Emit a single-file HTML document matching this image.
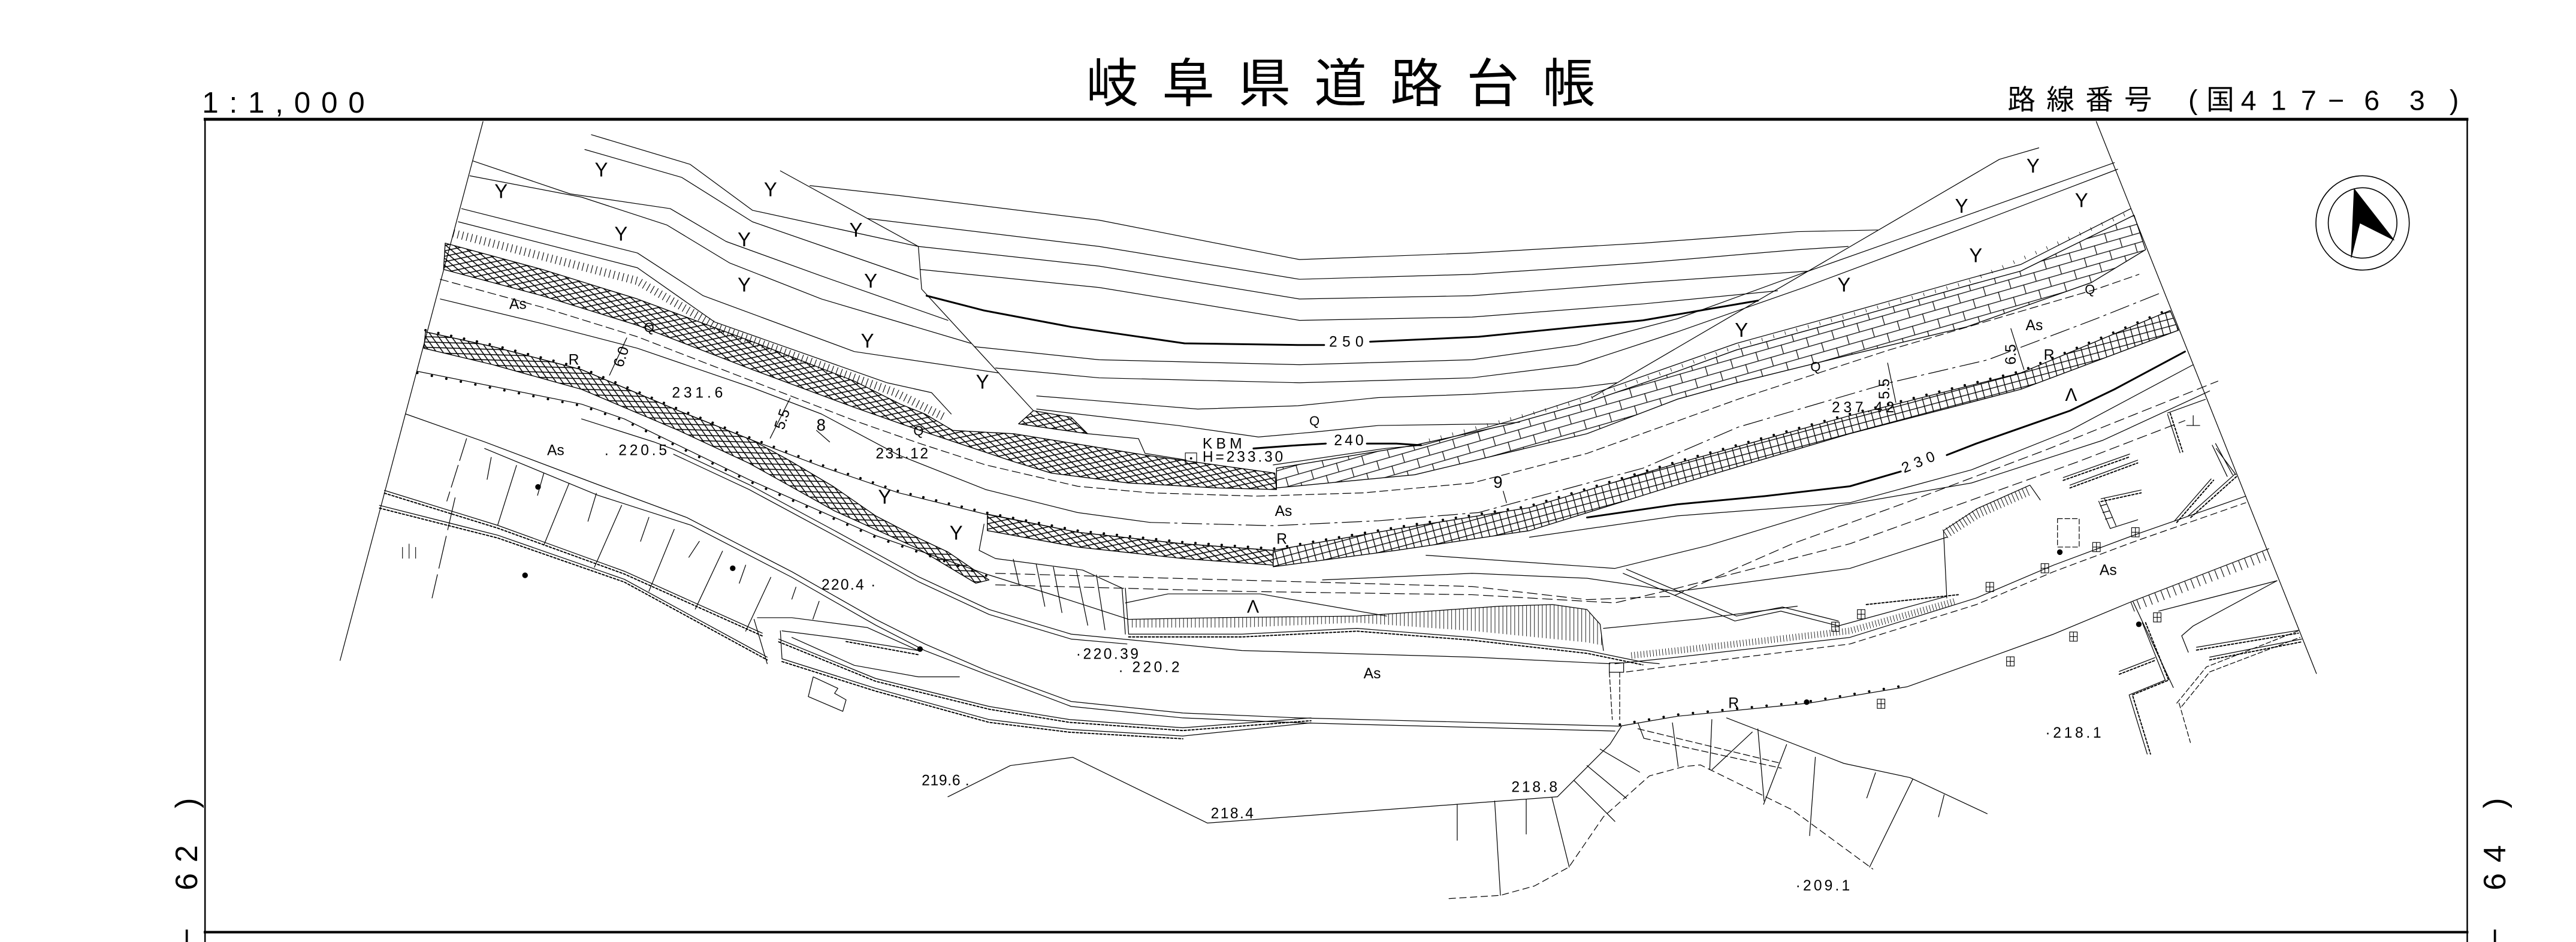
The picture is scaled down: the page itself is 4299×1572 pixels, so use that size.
<!DOCTYPE html>
<html><head><meta charset="utf-8">
<style>
html,body{margin:0;padding:0;background:#fff;}
svg{display:block;}
</style></head><body>
<svg xmlns="http://www.w3.org/2000/svg" width="4299" height="1572" viewBox="0 0 1568 573.4" preserveAspectRatio="none">
<defs>
<pattern id="xhU" patternUnits="userSpaceOnUse" width="7.3" height="3.6" patternTransform="rotate(14)">
<path d="M-0.4,-0.2 L7.7,3.8 M-0.4,3.8 L7.7,-0.2" stroke="#000" stroke-width="0.55" fill="none"/>
</pattern>
<pattern id="xhL" patternUnits="userSpaceOnUse" width="7.3" height="3.6" patternTransform="rotate(28)">
<path d="M-0.4,-0.2 L7.7,3.8 M-0.4,3.8 L7.7,-0.2" stroke="#000" stroke-width="0.55" fill="none"/>
</pattern>
<pattern id="grid" patternUnits="userSpaceOnUse" width="4.6" height="4.2" patternTransform="rotate(-15)">
<path d="M0,0.25 H4.6 M0.25,0 V4.2" stroke="#000" stroke-width="0.5" fill="none"/>
</pattern>
<pattern id="brick" patternUnits="userSpaceOnUse" width="16" height="11" patternTransform="rotate(-16)">
<path d="M0,0.25 H16 M0,5.75 H16 M0.25,0 V5.5 M8.25,5.5 V11" stroke="#000" stroke-width="0.45" fill="none"/>
</pattern>
<pattern id="vt" patternUnits="userSpaceOnUse" width="2.4" height="20">
<line x1="0.4" y1="0" x2="0.4" y2="20" stroke="#000" stroke-width="0.32"/>
</pattern>
<g id="sq"><rect x="-2.3" y="-2.8" width="4.6" height="5.6"/><line x1="0" y1="-2.8" x2="0" y2="2.8"/><line x1="-2.3" y1="0" x2="2.3" y2="0"/></g>
</defs>

<rect x="0" y="0" width="1568" height="573.4" fill="#fff"/>

<!-- Header -->
<g font-family="'Liberation Sans','Noto Sans CJK JP',sans-serif" fill="#000">
<text x="123" y="68.5" font-size="18" textLength="99" lengthAdjust="spacing">1:1,000</text>
<text x="661" y="62" font-size="32" textLength="310" lengthAdjust="spacing">岐阜県道路台帳</text>
<text x="1222" y="66.5" font-size="17" textLength="88" lengthAdjust="spacing">路線番号</text>
<text x="1332" y="66.5" font-size="17">(</text>
<text x="1343" y="66.5" font-size="17">国</text>
<text x="1364" y="67" font-size="17" textLength="46" lengthAdjust="spacing">417</text>
<text x="1417" y="67" font-size="17">−</text>
<text x="1439" y="67" font-size="17" textLength="37" lengthAdjust="spacing">63</text>
<text x="1491" y="66.5" font-size="17">)</text>
<!-- side labels -->
<text transform="translate(120,492) rotate(-90)" font-size="19">)</text>
<text transform="translate(120,525) rotate(-90)" font-size="19">2</text>
<text transform="translate(120,542) rotate(-90)" font-size="19">6</text>
<text transform="translate(120,576) rotate(-90)" font-size="19">−</text>
<text transform="translate(1525,492) rotate(-90)" font-size="19">)</text>
<text transform="translate(1525,525) rotate(-90)" font-size="19">4</text>
<text transform="translate(1525,542) rotate(-90)" font-size="19">6</text>
<text transform="translate(1525,576) rotate(-90)" font-size="19">−</text>
</g>

<!-- Frame -->
<g stroke="#000" fill="none">
<line x1="124" y1="72.6" x2="1502.5" y2="72.6" stroke-width="1.8"/>
<line x1="124.8" y1="72" x2="124.8" y2="573.4" stroke-width="0.9"/>
<line x1="1501.8" y1="72" x2="1501.8" y2="573.4" stroke-width="0.9"/>
<line x1="124" y1="567.4" x2="1502.5" y2="567.4" stroke-width="1.5"/>
</g>

<!-- Bands -->
<g stroke="#000" stroke-width="0.5" stroke-linejoin="round">
<path fill="url(#xhU)" d="M271,148 L330,164 L388,182 L458,208 L520,232 L548,246 L563,252 L580,262 L617,264 L660,271 L697,277 L740,283 L776,288 L777,298 L740,297 L687,294 L640,288 L617,281 L590,272 L560,262 L520,248 L458,225 L388,198 L330,180 L270,164 Z"/>
<path fill="url(#xhU)" d="M620,258 L629,250 L652,254 L662,264 Z"/>
<path fill="url(#xhL)" d="M259,202 L300,211 L354,225 L413,250 L458,268 L480,280 L507,296 L533,314 L560,328 L577,336 L602,353 L594,355 L559,334 L508,311 L456,282 L413,262 L354,237 L300,222 L258,212 Z"/>
<path fill="url(#xhU)" d="M601,313 L656,324 L720,331 L775,335 L775,344 L720,340 L656,333 L601,323 Z"/>
<path fill="url(#grid)" d="M775,335 L850,322 L931,309 L1021,282 L1126,253 L1230,227 L1321,189 L1326,201 L1230,237 L1126,264 L1021,295 L931,323 L850,335 L775,345 Z"/>
<path fill="url(#brick)" d="M777,285 L861,271 L920,258 L966,245 L1021,226 L1057,213 L1126,194 L1197,174 L1230,165 L1299,131 L1306,152 L1273,172 L1197,199 L1126,216 L1057,233 L1021,243 L966,264 L861,289 L777,297 Z"/>
</g>

<!-- main line work -->
<g fill="none" stroke="#000" stroke-width="0.45" stroke-linejoin="round" stroke-linecap="round">
<!-- survey boundaries -->
<line x1="294" y1="74" x2="207" y2="402"/>
<line x1="1276" y1="74" x2="1410" y2="410"/>
<polyline points="284,267 272,305" stroke-dasharray="14 3"/>
<polyline points="277,303 263,364" stroke-dasharray="20 4"/>

<!-- upper-left forest slope -->
<polyline points="360,82 420,100 458,128 559,150"/>
<polyline points="356,91 415,108 458,135 559,170"/>
<polyline points="475,104 559,150 561,176 629,250"/>
<polyline points="288,98 347,118 408,127 442,147 500,168 577,195"/>
<polyline points="286,107 354,120 406,137 444,160 500,182 591,209"/>
<polyline points="281,127 388,154 428,180 520,214 608,227"/>
<polyline points="279,135 388,163 435,196 540,233 567,239 579,252"/>
<polyline points="276,142 388,171 438,200 545,239 575,254" stroke-width="5" stroke-dasharray="0.4 2.4" stroke-linecap="butt"/>
<polyline points="662,264 693,267 697,276 722,280"/>

<!-- contours -->
<polyline points="493,113 547,119 669,134 791,158 896,154 1000,148 1094,141 1143,140"/>
<polyline points="528,133 669,150 791,170 896,167 1000,160 1094,152 1125,150"/>
<polyline points="559,150 669,162 791,182 896,180 1000,172 1101,165"/>
<polyline points="560,164 669,175 791,195 896,193 1000,185 1082,177"/>
<polyline points="564,180 599,189 652,199 721,209 790,210 806,210" stroke-width="1.1"/>
<polyline points="834,208 900,205 1000,195 1070,183" stroke-width="1.1"/>
<polyline points="593,211 669,219 791,222 896,219 960,210 1021,194 1098,166 1200,130 1287,99"/>
<polyline points="606,224 669,230 791,233 896,230 960,222 1021,202 1098,175 1200,137 1289,103"/>
<polyline points="631,241 656,243 729,249 790,247 839,242 896,240 960,236 984,233"/>
<polyline points="631,249 656,252 717,259 766,266 800,263 839,259 913,258 925,257"/>
<polyline points="969,242 1217,97 1241,90"/>
<polyline points="763,273 790,271 807,270" stroke-width="1.1"/>
<polyline points="832,270 850,270 865,271" stroke-width="1.1"/>
<polyline points="775,283 843,273 866,271 920,256 966,241 1057,209 1126,190 1197,170 1230,161 1297,127"/>
<polyline points="870,268 966,243 1057,211 1197,172 1297,129" stroke-width="2.2" stroke-dasharray="0.3 7" stroke-linecap="butt"/>

<!-- upper road -->
<polyline points="268,170 330,187 388,205 458,232 520,256 560,270 600,283 656,296 700,300 765,302 830,300 896,294 966,276 1058,243 1150,213 1276,176 1302,167" stroke-dasharray="5 2.5"/>
<polyline points="268,182 330,197 388,212 458,236 500,252 547,277 600,298 656,312 700,318"/>
<polyline points="700,318 775,320 839,317 900,312 1000,285 1058,260 1150,233 1210,219 1276,194 1316,178" stroke-dasharray="12 3 1.5 3"/>
<polyline points="259,202 300,211 354,225 413,250 458,268 500,284 547,300 600,313 656,324 720,331 775,335"/>
<polyline points="259,201 300,210 354,224 413,249 458,267 500,283 547,299 600,312 656,323 720,330 775,334 850,321 931,308 1021,281 1126,252 1230,226 1321,188" stroke-width="1.5" stroke-dasharray="0.01 8"/>
<polyline points="931,327 1021,314 1126,306 1200,286 1260,262 1335,222"/>

<!-- dimension marks -->
<line x1="381.5" y1="205.7" x2="371" y2="228.4"/>
<line x1="481" y1="242.3" x2="468.8" y2="266.7"/>
<line x1="497" y1="262" x2="505" y2="269"/>
<line x1="915" y1="299" x2="917" y2="306"/>
<line x1="1149" y1="221" x2="1154" y2="245"/>
<line x1="1224" y1="200" x2="1232" y2="225"/>

<!-- lower-left road -->
<polyline points="247,252 295,269 364,295 418,315 482,348 533,377 563,392 600,408 652,427 720,434 791,437 986,442"/>
<polyline points="295,273 364,301.5 420.6,319.7 482,351.4 533,380.5 563,396 601.7,411 652,430 720,437 791,440 983,445"/>
<polyline points="254,226 354,246 380,255 456,292 533,326 602,350 650,365 687,377"/>
<polyline points="254,227 354,247 380,256 456,293 533,327 602,351" stroke-width="1.5" stroke-dasharray="0.01 9"/>
<polyline points="354,255 398,269 410,273.5 456,295 508,323 559,351 602,371 652,386 756,396 896,400 980,404"/>
<polyline points="410,276.5 456,298 508,326 559,354 602,374 652,389 686,392"/>
<polyline points="685,367 711,361.5 767,361.5 844,375"/>
<line x1="685" y1="358" x2="687" y2="386"/>

<!-- slope hatching lower-left -->
<line x1="299" y1="278.4" x2="296.5" y2="291.8"/>
<line x1="314.4" y1="283.3" x2="302.9" y2="319.8"/>
<line x1="331" y1="288.1" x2="327.2" y2="301.5"/>
<line x1="346.4" y1="294.2" x2="331" y2="331.9"/>
<line x1="363" y1="300.3" x2="357.9" y2="317.3"/>
<line x1="378.4" y1="307.6" x2="361.8" y2="345.3"/>
<line x1="395" y1="314.9" x2="389.9" y2="329.5"/>
<line x1="410.4" y1="322.2" x2="395" y2="359.9"/>
<line x1="425.7" y1="329.5" x2="419.3" y2="339.2"/>
<line x1="439.8" y1="335.5" x2="423.2" y2="370.8"/>
<line x1="453.9" y1="344" x2="450" y2="355"/>
<line x1="469.2" y1="351.4" x2="453.9" y2="384.2"/>
<line x1="484.5" y1="357.4" x2="482" y2="364.7"/>
<line x1="498.6" y1="366" x2="494.8" y2="376.9"/>

<!-- hedges (scallops) -->
<polyline points="234,298.5 303,319.8 380,347.7 464,385.4"/>
<polyline points="234,300.2 303,321.5 380,349.4 464,387.1" stroke-width="0.7" stroke-dasharray="1.3 1.1"/>
<polyline points="231,307.6 303,325.8 380,352.6 467,400"/>
<polyline points="231,309.3 303,327.5 380,354.3 467,401.7" stroke-width="0.7" stroke-dasharray="1.3 1.1"/>
<polyline points="474,389 533,413 602,430 651,438 720,443 798,437"/>
<polyline points="474,390.7 533,414.7 602,431.7 651,439.7 720,444.7 798,438.7" stroke-width="0.7" stroke-dasharray="1.3 1.1"/>
<polyline points="476,401 533,419 602,438 651,444 720,448 798,440"/>
<polyline points="476,402.7 533,420.7 602,439.7 651,445.7 720,449.7" stroke-width="0.7" stroke-dasharray="1.3 1.1"/>

<!-- ramp -->
<polyline points="459,377 467,404"/>
<polyline points="461,376 482,376 528,382 559,396"/>
<polyline points="475,384 476,401"/>
<polyline points="476,384 515,389 559,396"/>
<polyline points="515,390.5 559,398.5" stroke-width="0.7" stroke-dasharray="1.3 1.1"/>
<polyline points="482,388 520,405 559,412 584,412"/>
<polygon points="495,412 492,424 513,433 515,426 508,422 510,419"/>

<!-- junction area -->
<polyline points="599,319 596,335 606,340 659,347 683,358 685,386"/>
<line x1="616.8" y1="340.4" x2="620.3" y2="355.7"/>
<line x1="630.7" y1="343.3" x2="636" y2="369.1"/>
<line x1="641.2" y1="345.2" x2="646.4" y2="372.9"/>
<line x1="655.2" y1="347.1" x2="662.1" y2="380.6"/>
<line x1="667.4" y1="350" x2="672.6" y2="383.4"/>
<polyline points="606,349 714,352 896,357 966,365 1018,363 1091,331 1160,306 1245,274 1300,252 1350,232" stroke-dasharray="6 3"/>
<polyline points="606,356 756,360 896,362 983,367 1021,358 1126,331 1265,281 1330,256" stroke-dasharray="6 3"/>
<polyline points="805,353 896,349 966,352 1021,360 1126,346 1185,327"/>
<polyline points="868,338 940,343 983,346 1040,332 1119,308 1200,294 1280,268 1345,238"/>
<polyline points="976,382.5 1035,376.7 1094,369"/>

<!-- comb bank along lower road -->
<path fill="url(#vt)" stroke="none" d="M687,377 L740,376 L826,375 L870,372 L913,369 L945,368 L966,371 L974,380 L976,393 L966,391 L896,384 L826,379 L756,382 L687,382 Z"/>
<polyline points="687,377 740,376 826,375 870,372 913,369 945,368 966,371 974,380 976,396"/>
<polyline points="687,386 756,386 826,382.5 896,388 966,396 1000,403 1010,404"/>
<polyline points="687,387.7 756,387.7 826,384.2 896,389.7 966,397.7 1000,404.7" stroke-width="0.7" stroke-dasharray="1.3 1.1"/>

<!-- pipe / box -->
<rect x="979.6" y="403.5" width="8.7" height="5.7"/>
<line x1="979.6" y1="409.2" x2="981.4" y2="438" stroke-dasharray="3 1.5"/>
<line x1="985.9" y1="409.2" x2="985.9" y2="438" stroke-dasharray="3 1.5"/>

<!-- right lower road -->
<polyline points="983,404 1021,400 1126,388 1203,364 1250,344 1301,325 1367,302"/>
<polyline points="990,409 1021,405 1126,392 1203,368 1250,348 1301,329 1367,306" stroke-dasharray="4 2.5"/>
<polyline points="993,399 1021,396 1126,384 1190,366" stroke-width="4" stroke-dasharray="0.3 1.6" stroke-linecap="butt"/>
<polyline points="986,442 1021,436 1101,428 1161,418 1203,403 1250,386 1298,366 1381,334"/>
<polyline points="986,441 1021,435 1101,427 1161,417" stroke-width="1.5" stroke-dasharray="0.01 9"/>
<polyline points="1298,369.5 1381,337.5" stroke-width="6" stroke-dasharray="0.4 3.5" stroke-linecap="butt"/>
<polyline points="1314,372 1386,353.5"/>

<!-- stair line -->
<polyline points="988,349 1056,378 1084,372 1119,381 1185,363"/>
<polyline points="990,346.5 1057,375 1085,369.5 1119,378"/>
<polyline points="1136,368 1192,362" stroke-width="0.7" stroke-dasharray="1.3 1.1"/>

<!-- comb block -->
<polyline points="1185,364 1183,323 1203.5,309.6 1235.6,295.3 1241.9,304.3"/>
<polyline points="1184,325 1203.5,312.6 1235.6,298.3" stroke-width="6" stroke-dasharray="0.35 2" stroke-linecap="butt"/>

<!-- thick 230 -->
<polyline points="966,315 1021,307 1074,302 1126,296 1157,287" stroke-width="1.1"/>
<polyline points="1185,277 1203,270 1260,250 1287,237 1330,214" stroke-width="1.1"/>

<!-- right structures -->
<polyline points="1298.4,366.3 1322.9,418.5"/>
<polyline points="1304,379 1318,414 1296,423 1307,459"/>
<polyline points="1306,379 1320,414 1298,423 1309,459" stroke-width="0.7" stroke-dasharray="1.3 1.1"/>
<polyline points="1325,428 1343,406 1399,384" stroke-dasharray="3 1.5"/>
<polyline points="1328,430 1345,409 1400,388" stroke-dasharray="3 1.5"/>
<polyline points="1326.4,428 1333.3,452" stroke-dasharray="3 1.5"/>
<polyline points="1386,353.5 1335,381 1328,387 1332,397"/>
<polyline points="1337,394 1399,383.7"/>
<polyline points="1337,395.7 1399,385.4" stroke-width="0.7" stroke-dasharray="1.3 1.1"/>
<polyline points="1345,400 1401,389"/>
<polyline points="1345,401.7 1401,390.7" stroke-width="0.7" stroke-dasharray="1.3 1.1"/>
<polyline points="1290,408.7 1311.7,400.3"/>
<polyline points="1290,410.4 1311.7,402" stroke-width="0.7" stroke-dasharray="1.3 1.1"/>
<polyline points="1255.9,290.7 1296.3,276.4"/>
<polyline points="1255.9,292.4 1296.3,278.1" stroke-width="0.7" stroke-dasharray="1.3 1.1"/>
<polyline points="1260,295.3 1301.2,280.1"/>
<polyline points="1260,297 1301.2,281.8" stroke-width="0.7" stroke-dasharray="1.3 1.1"/>
<polyline points="1278.9,303.6 1303.3,298.3"/>
<polyline points="1278.9,305.3 1303.3,300" stroke-width="0.7" stroke-dasharray="1.3 1.1"/>
<polyline points="1277.5,305.1 1284.5,321.7 1301.2,316.4"/>
<polyline points="1281,303.5 1288,320"/>
<line x1="1278.5" y1="308" x2="1282" y2="307"/><line x1="1280" y1="312" x2="1284" y2="311"/><line x1="1281.5" y1="316" x2="1285.5" y2="315"/>
<rect x="1252.4" y="315.7" width="13.2" height="17.3" stroke-dasharray="3 1.5"/>
<polyline points="1319.4,252.2 1327,275.6"/>
<polyline points="1321,251.5 1328.6,275" stroke-width="0.7" stroke-dasharray="1.3 1.1"/>
<polyline points="1319.4,251.4 1342.4,243.1"/>
<line x1="1331" y1="259" x2="1339" y2="259"/>
<line x1="1335" y1="253" x2="1335" y2="259"/>
<line x1="1346.6" y1="271" x2="1355.7" y2="290"/>
<line x1="1348.6" y1="270" x2="1359" y2="289"/>
<polyline points="1323.5,317.2 1345.9,291.5"/>
<polyline points="1325,318 1347.4,292.3" stroke-width="0.7" stroke-dasharray="1.3 1.1"/>
<polyline points="1332,314 1360.5,288.5"/>
<polyline points="1333.5,315 1362,289.5" stroke-width="0.7" stroke-dasharray="1.3 1.1"/>
<line x1="1349" y1="273" x2="1361" y2="289"/>

<!-- lower polylines -->
<polyline points="577,485 615,466 653,461 735,501 948,485 980,453 987,442"/>
<line x1="887" y1="489.6" x2="887" y2="511.5"/>
<line x1="909.8" y1="487.6" x2="913.3" y2="545"/>
<line x1="929" y1="486.7" x2="929" y2="507.7"/>
<line x1="944.7" y1="485.7" x2="955.2" y2="527.8"/>
<line x1="958" y1="475" x2="983" y2="500"/>
<line x1="966" y1="466" x2="990" y2="486"/>
<line x1="974" y1="456" x2="998" y2="470"/>
<polyline points="882,547 913.3,545 934,539.3 955,527.8 976,497.2 1004,472.3 1025,466.6 1035,465.6 1091,493 1140,529" stroke-dasharray="4 2.5"/>
<polyline points="1051,437 1122.4,464.7 1162.5,473.3 1209.6,495.3"/>
<line x1="1066.6" y1="445.6" x2="1042.1" y2="468.5"/>
<line x1="1087.5" y1="453.2" x2="1073.5" y2="489.6"/>
<line x1="1105" y1="460.9" x2="1101.5" y2="508.7"/>
<line x1="1141.6" y1="470.4" x2="1136.3" y2="485.7"/>
<line x1="1164.3" y1="474.3" x2="1138" y2="527.8"/>
<line x1="1183.4" y1="483.8" x2="1180" y2="497.2"/>
<line x1="997" y1="440" x2="1000.6" y2="449.4"/>
<line x1="1018" y1="440" x2="1021.5" y2="466.6"/>
<line x1="1042" y1="438" x2="1040.7" y2="468.5"/>
<line x1="1070" y1="443.7" x2="1073.8" y2="487.6"/>
<polyline points="997,443.6 1084.3,464.7" stroke-dasharray="4 2"/>
<polyline points="1000.6,449.4 1084.3,467.6" stroke-dasharray="4 2"/>

<!-- compass -->
<ellipse cx="1438.1" cy="135.7" rx="28.4" ry="28.7" stroke-width="0.6"/>
<ellipse cx="1438.1" cy="135.7" rx="20.9" ry="21.4" stroke-width="0.6"/>
</g>

<!-- compass arrow -->
<path d="M1433,115 L1457.3,146.2 L1436.4,135.7 L1431.2,156.8 Z" fill="#000" stroke="#000" stroke-width="0.4"/>

<!-- small symbols -->
<g fill="#000">
<circle cx="327.5" cy="296.4" r="1.7"/>
<circle cx="319.6" cy="350.2" r="1.7"/>
<circle cx="446" cy="345.9" r="1.7"/>
<circle cx="560" cy="395.1" r="1.7"/>
<circle cx="1253.8" cy="336.1" r="1.7"/>
<circle cx="1301.9" cy="380" r="1.7"/>
<circle cx="1099.7" cy="427.4" r="1.7"/>
</g>
<g fill="none" stroke="#000" stroke-width="0.4">
<use href="#sq" x="1299.8" y="324"/>
<use href="#sq" x="1276.1" y="333"/>
<use href="#sq" x="1244.7" y="345.9"/>
<use href="#sq" x="1211.2" y="357.3"/>
<use href="#sq" x="1132.9" y="373.9"/>
<use href="#sq" x="1117.2" y="381.5"/>
<use href="#sq" x="1313.1" y="375.8"/>
<use href="#sq" x="1262.1" y="387.5"/>
<use href="#sq" x="1223.7" y="402.6"/>
<use href="#sq" x="1145" y="428.4"/>
</g>
<g fill="none" stroke="#000" stroke-width="0.4">
<line x1="245" y1="333" x2="245" y2="340"/><line x1="249" y1="331" x2="249" y2="340"/><line x1="253" y1="333" x2="253" y2="340"/>
<rect x="721.5" y="275.7" width="6.9" height="6.5"/>
</g>
<circle cx="725" cy="279" r="0.7" fill="#000"/>

<!-- Labels -->
<g font-family="'Liberation Sans',sans-serif" fill="#000" font-size="9">
<text x="310" y="188">As</text>
<text x="346" y="222">R</text>
<text transform="translate(379,224) rotate(-72)">6.0</text>
<text x="409" y="242" textLength="31">231.6</text>
<text transform="translate(477,262) rotate(-72)">5.5</text>
<text x="497" y="262" font-size="10">8</text>
<text x="533" y="279" textLength="32">231.12</text>
<text x="333" y="277">As</text>
<text x="368" y="277" textLength="38">. 220.5</text>
<text x="500" y="359" textLength="33">220.4 ·</text>
<text x="561" y="478" textLength="29">219.6 .</text>
<text x="737" y="498" textLength="26">218.4</text>
<text x="920" y="482" textLength="28">218.8</text>
<text x="655" y="401" textLength="38">·220.39</text>
<text x="681" y="409" textLength="37">. 220.2</text>
<text x="830" y="413">As</text>
<text x="732" y="273" textLength="24">KBM</text>
<text x="732" y="281" textLength="49">H=233.30</text>
<text x="812" y="271" textLength="18">240</text>
<text x="809" y="211" textLength="21">250</text>
<text x="797" y="259" font-size="8">Q</text>
<text x="556" y="265" font-size="8">Q</text>
<text x="392" y="202" font-size="8">Q</text>
<text x="1102" y="226" font-size="8">Q</text>
<text x="1269" y="179" font-size="8">Q</text>
<text x="909" y="297" font-size="10">9</text>
<text x="776" y="314">As</text>
<text x="777" y="331">R</text>
<text transform="translate(1159,288) rotate(-22)" textLength="21">230</text>
<text x="1257" y="244" font-size="11">Λ</text>
<text x="759" y="373" font-size="11">Λ</text>
<text x="1115" y="251" textLength="38">237.42</text>
<text transform="translate(1150,243) rotate(-90)">5.5</text>
<text transform="translate(1227,222) rotate(-90)">6.5</text>
<text x="1233" y="201">As</text>
<text x="1244" y="219">R</text>
<text x="1278" y="350">As</text>
<text x="1052" y="431">R</text>
<text x="1245" y="449" textLength="34">·218.1</text>
<text x="1093" y="542" textLength="33">·209.1</text>
</g>

<!-- Y symbols -->
<g font-family="'Liberation Sans',sans-serif" fill="#000" font-size="12" text-anchor="middle">
<text x="305" y="120.5">Y</text>
<text x="366" y="107.5">Y</text>
<text x="469" y="119.5">Y</text>
<text x="521" y="144">Y</text>
<text x="378" y="146.5">Y</text>
<text x="453" y="150">Y</text>
<text x="453" y="177.5">Y</text>
<text x="530" y="175">Y</text>
<text x="528" y="211.5">Y</text>
<text x="598" y="236.5">Y</text>
<text x="538.5" y="306.5">Y</text>
<text x="582" y="328.5">Y</text>
<text x="1060" y="205">Y</text>
<text x="1122.4" y="177.5">Y</text>
<text x="1202.6" y="159.5">Y</text>
<text x="1194" y="129.5">Y</text>
<text x="1267" y="126">Y</text>
<text x="1237.5" y="105">Y</text>
</g>
</svg>
</body></html>
